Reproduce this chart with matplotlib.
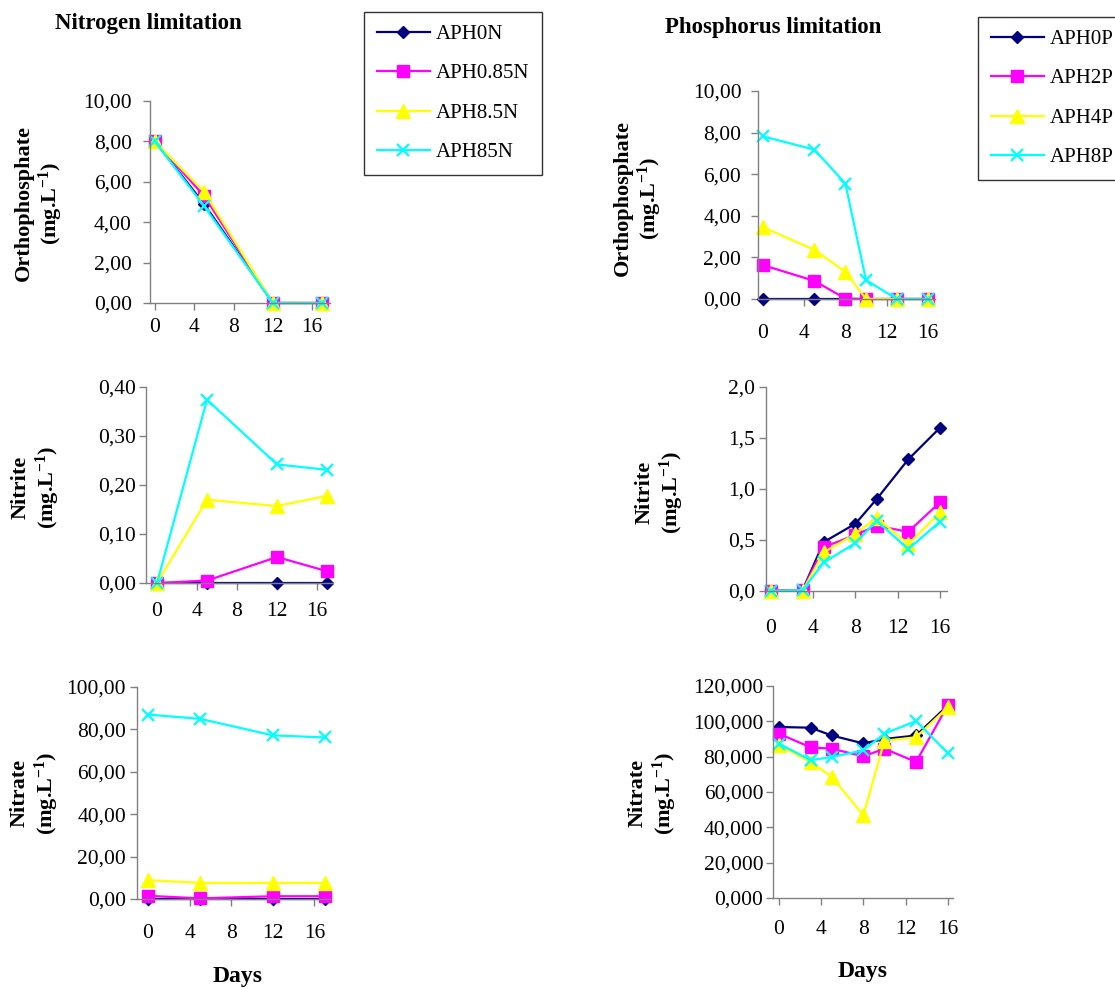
import matplotlib.pyplot as plt
from matplotlib.ticker import FuncFormatter

# sampling days
days_n = [0, 5, 12, 17]
days_p_ortho = [0, 5, 8, 10, 13, 16]
days_p = [0, 3, 5, 8, 10, 13, 16]

labels_n = ['APH0N', 'APH0.85N', 'APH8.5N', 'APH85N']
labels_p = ['APH0P', 'APH2P', 'APH4P', 'APH8P']

# nitrogen limitation series (one row per treatment, same order as labels_n)
ortho_n = [[8.0, 4.9, 0.0, 0.0],
           [8.0, 5.3, 0.0, 0.0],
           [8.0, 5.5, 0.0, 0.0],
           [8.0, 4.8, 0.0, 0.0]]
nitrite_n = [[0.0, 0.0, 0.0, 0.0],
             [0.0, 0.005, 0.053, 0.024],
             [0.0, 0.170, 0.157, 0.178],
             [0.0, 0.374, 0.242, 0.231]]
nitrate_n = [[0.1, 0.1, 0.1, 0.1],
             [1.5, 0.3, 1.3, 1.3],
             [8.9, 7.6, 7.6, 7.6],
             [87.0, 85.0, 77.2, 76.2]]

# phosphorus limitation series (same order as labels_p)
ortho_p = [[0.0, 0.0, 0.0, 0.0, 0.0, 0.0],
           [1.63, 0.87, 0.02, 0.0, 0.0, 0.0],
           [3.45, 2.36, 1.31, 0.0, 0.0, 0.0],
           [7.82, 7.18, 5.55, 0.91, 0.0, 0.0]]
nitrite_p = [[0.0, 0.01, 0.48, 0.66, 0.90, 1.29, 1.60],
             [0.0, 0.01, 0.43, 0.55, 0.64, 0.58, 0.87],
             [0.0, 0.0, 0.38, 0.56, 0.72, 0.46, 0.77],
             [0.0, 0.01, 0.28, 0.47, 0.69, 0.41, 0.68]]
nitrate_p = [[96.8, 96.4, 92.0, 87.5, 90.0, 92.0, 109.0],
             [93.0, 85.3, 84.5, 80.2, 84.5, 77.0, 109.0],
             [86.5, 77.0, 68.7, 46.8, 89.0, 91.0, 108.0],
             [87.4, 78.0, 79.8, 83.6, 93.0, 100.2, 82.0]]

colors = ['#000080', '#FF00FF', '#FFFF00', '#00FFFF']
markers = ['D', 's', '^', 'x']
msizes = [6.2, 8, 9.5, 9]

plt.rcParams['font.family'] = ['Liberation Serif', 'DejaVu Serif']
plt.rcParams['mathtext.fontset'] = 'custom'
plt.rcParams['mathtext.rm'] = 'Liberation Serif:bold'
plt.rcParams['mathtext.it'] = 'Liberation Serif:bold'

W, H = 1115, 988
fig = plt.figure(figsize=(W / 100, H / 100), dpi=100)


def add_panel(box, xlim, ylim, ystep, decimals, xpad, ypad):
    l, t, r, b = box
    ax = fig.add_axes([l / W, 1 - b / H, (r - l) / W, (b - t) / H])
    ax.set_xlim(*xlim)
    ax.set_ylim(*ylim)
    ax.set_xticks([0, 4, 8, 12, 16])
    n = int(round((ylim[1] - ylim[0]) / ystep))
    ax.set_yticks([ylim[0] + i * ystep for i in range(n + 1)])
    fmt = '{:.%df}' % decimals
    ax.yaxis.set_major_formatter(FuncFormatter(lambda v, p: fmt.format(v).replace('.', ',')))
    for s in ['top', 'right']:
        ax.spines[s].set_visible(False)
    for s in ['left', 'bottom']:
        ax.spines[s].set_color('#808080')
        ax.spines[s].set_linewidth(1.0)
    ax.tick_params(axis='both', direction='out', length=5, width=1,
                   color='#808080', labelsize=15.5)
    ax.tick_params(axis='x', pad=xpad)
    ax.tick_params(axis='y', pad=ypad)
    ax.patch.set_visible(False)
    return ax


def draw_series(ax, days, series, labels):
    lines = []
    for vals, c, m, ms, lab in zip(series, colors, markers, msizes, labels):
        ln, = ax.plot(days, vals, color=c, marker=m, markersize=ms,
                      markerfacecolor=c, markeredgecolor=c,
                      markeredgewidth=1.6 if m == 'x' else 1.0,
                      linewidth=1.6, label=lab, clip_on=False)
        lines.append(ln)
    return lines


def side_label(cx, cy, text):
    fig.text(cx / W, 1 - cy / H, text, rotation=90, ha='center', va='center',
             fontsize=16, fontweight='bold', linespacing=1.15)


unit = '(mg.L$^{-1}$)'

# nitrogen limitation column
ax1 = add_panel((150, 101, 330, 303), (-0.5, 17.8), (0, 10), 2, 2, 6, 8)
h_n = draw_series(ax1, days_n, ortho_n, labels_n)
side_label(39, 203, 'Orthophosphate\n' + unit)

ax2 = add_panel((146, 387, 333, 583), (-1.1, 17.6), (0, 0.4), 0.1, 2, 9, 2)
draw_series(ax2, days_n, nitrite_n, labels_n)
side_label(36, 487, 'Nitrite\n' + unit)

ax3 = add_panel((137, 687, 330, 899), (-1.05, 17.5), (0, 100), 20, 2, 13, 3)
draw_series(ax3, days_n, nitrate_n, labels_n)
side_label(35, 793, 'Nitrate\n' + unit)

# phosphorus limitation column
ax4 = add_panel((758, 91, 935, 299), (-0.48, 16.7), (0, 10), 2, 2, 13, 7)
h_p = draw_series(ax4, days_p_ortho, ortho_p, labels_p)
side_label(638, 198, 'Orthophosphate\n' + unit)

ax5 = add_panel((766, 387, 947, 591), (-0.47, 16.67), (0, 2), 0.5, 1, 15, 3)
draw_series(ax5, days_p, nitrite_p, labels_p)
side_label(660, 492, 'Nitrite\n' + unit)

ax6 = add_panel((773, 686, 953, 898), (-0.56, 16.5), (0, 120), 20, 3, 11, 2)
draw_series(ax6, days_p, nitrate_p, labels_p)
side_label(653, 793, 'Nitrate\n' + unit)

# titles and shared x labels
fig.text(148 / W, 1 - 23 / H, 'Nitrogen limitation', ha='center', va='center',
         fontsize=16.5, fontweight='bold')
fig.text(773 / W, 1 - 28 / H, 'Phosphorus limitation', ha='center', va='center',
         fontsize=16.5, fontweight='bold')
fig.text(238 / W, 1 - 976 / H, 'Days', ha='center', va='center',
         fontsize=17, fontweight='bold')
fig.text(863 / W, 1 - 971 / H, 'Days', ha='center', va='center',
         fontsize=17, fontweight='bold')

# legends
for handles, labs, (lx, ty) in [(h_n, labels_n, (364, 12)), (h_p, labels_p, (978, 17))]:
    leg = fig.legend(handles, labs, loc='upper left',
                     bbox_to_anchor=(lx / W, 1 - ty / H), borderaxespad=0,
                     fontsize=15, frameon=True, fancybox=False, edgecolor='black',
                     handlelength=2.55, handletextpad=0.3, borderpad=0.6,
                     labelspacing=0.95)
    leg.get_frame().set_linewidth(1.0)

fig.savefig('out.png', dpi=100)
